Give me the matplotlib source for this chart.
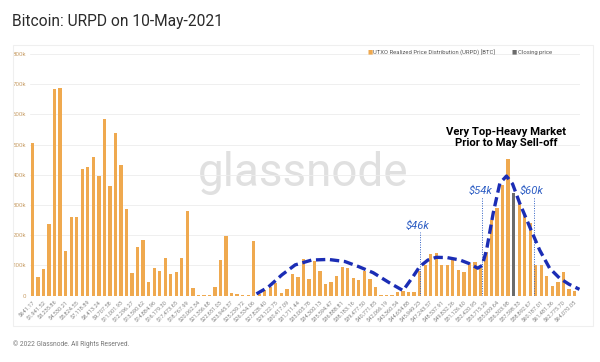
import matplotlib
matplotlib.use('Agg')
import matplotlib.pyplot as plt
import numpy as np

# URPD supply per price bucket (BTC, thousands), buckets 1..99 of $647.17
urpd_k = [507, 61, 87, 236, 684, 688, 148, 262, 260, 420,
          426, 460, 397, 585, 363, 539, 433, 287, 75, 162,
          183, 44, 93, 81, 124, 73, 78, 125, 280, 27,
          1, 2, 2, 30, 119, 199, 9, 5, 2, 2,
          182, 5, 19, 28, 41, 9, 23, 71, 62, 122,
          56, 115, 82, 39, 45, 65, 96, 91, 58, 52,
          83, 55, 28, 1, 1, 2, 13, 17, 13, 13,
          82, 100, 138, 140, 100, 100, 118, 85, 80, 107,
          113, 91, 146, 251, 289, 367, 452, 340, 306, 267,
          240, 102, 102, 65, 32, 46, 80, 22, 17]
close_bucket = 88

tick_labels = ['$641.17', '$1,941.52', '$3,235.86', '$4,530.21', '$5,824.55',
               '$7,118.89', '$8,413.24', '$9,707.58', '$11,001.93', '$12,296.27',
               '$13,590.62', '$14,884.96', '$16,179.30', '$17,473.65', '$18,767.99',
               '$20,062.34', '$21,356.68', '$22,651.03', '$23,945.37', '$25,239.72',
               '$26,534.06', '$27,828.40', '$29,122.75', '$30,417.09', '$31,711.44',
               '$33,005.78', '$34,300.13', '$35,594.47', '$36,888.81', '$38,183.16',
               '$39,477.50', '$40,771.85', '$42,066.19', '$43,360.54', '$44,654.88',
               '$45,949.23', '$47,243.57', '$48,537.91', '$49,832.26', '$51,126.60',
               '$52,420.95', '$53,715.29', '$55,009.64', '$56,303.98', '$57,598.33',
               '$58,892.67', '$60,187.01', '$61,481.36', '$62,775.70', '$64,070.05']

# hand-drawn trend curve (bucket index, thousands BTC)
curve_x = [41.5, 43.6, 46.1, 48.5, 51.5, 54.5, 57.5, 60.0, 62.6, 65.6, 68.0,
           69.8, 71.0, 72.5, 74.0, 76.0, 78.3, 80.0, 81.5, 82.3, 83.1, 84.3,
           85.5, 86.7, 87.8, 89.1, 90.9, 92.7, 94.5, 96.3, 98.0, 99.9]
curve_y = [6, 28, 69, 102, 118, 120, 113, 96, 76, 42, 17,
           63, 96, 118, 127, 126, 118, 106, 91, 100, 151, 273,
           372, 396, 370, 306, 228, 151, 91, 58, 38, 21]

# price markers (label, bucket position)
markers = [('$46k', 71.0), ('$54k', 82.3), ('$60k', 91.6)]
marker_label_y = [230, 346, 346]

orange = '#EFA94F'
gray = '#6B6B6B'
blue = '#1B2DB5'
label_blue = '#2F5FC4'

plt.rcParams['font.family'] = ['Roboto', 'DejaVu Sans']

fig = plt.figure(figsize=(6, 3.62), dpi=100)
ax = fig.add_axes([0.05, 0.1832, 0.9167, 0.6676])

x = np.arange(1, len(urpd_k) + 1)
vals = np.array(urpd_k) * 1000
colors = [gray if i == close_bucket else orange for i in x]
ax.bar(x, vals, width=0.6, color=colors, zorder=2)

ax.set_xlim(0.55, 100)
ax.set_ylim(0, 800000)
ax.set_yticks(np.arange(0, 800001, 100000))
ax.set_yticklabels(['0'] + ['%dk' % (v // 1000) for v in range(100000, 800001, 100000)])
ax.set_xticks(x[::2])
ax.set_xticklabels(tick_labels, rotation=45, ha='right', va='top',
                   rotation_mode='anchor')
ax.tick_params(axis='y', length=0, labelsize=4.4, labelcolor='#C9A06A', pad=3)
ax.tick_params(axis='x', length=0, labelsize=4.1, labelcolor='#888888', pad=3)
ax.grid(axis='y', color='#EDEDED', linewidth=0.6, zorder=0)
for s in ax.spines.values():
    s.set_visible(False)

# trend curve
ax.plot(curve_x, np.array(curve_y) * 1000, color=blue, linewidth=2.4,
        linestyle=(0, (2.8, 1.4)), zorder=4, solid_capstyle='butt')

# price markers
for (lab, pos), ly in zip(markers, marker_label_y):
    ax.plot([pos, pos], [0, (ly - 18) * 1000], color=label_blue, linewidth=0.7,
            linestyle=(0, (1, 1.5)), zorder=3)
    ax.text(pos - 0.3, ly * 1000, lab, color=label_blue, fontsize=8,
            style='italic', ha='center', va='center', zorder=5)

ax.text(86.7, 523000, 'Very Top-Heavy Market\nPrior to May Sell-off',
        fontsize=8.1, fontweight='bold', ha='center', va='center',
        linespacing=1.15, zorder=5)

# watermark
ax.text(50, 405000, 'glassnode', fontsize=33, color='#E0E0E0',
        ha='center', va='center', zorder=1)

# legend
fig.text(0.612, 0.856, '\u25A0', color=orange, fontsize=4, va='center')
fig.text(0.622, 0.856, 'UTXO Realized Price Distribution (URPD) [BTC]',
         color='#555555', fontsize=4.2, va='center')
fig.text(0.853, 0.856, '\u25A0', color=gray, fontsize=4, va='center')
fig.text(0.863, 0.856, 'Closing price', color='#555555', fontsize=4.2, va='center')

# panel border
panel = plt.Rectangle((0.022, 0.1), 0.966, 0.776, transform=fig.transFigure,
                      fill=False, edgecolor='#EFEFEF', linewidth=0.8)
fig.add_artist(panel)

fig.text(0.02, 0.94, 'Bitcoin: URPD on 10-May-2021', fontsize=11.2,
         color='#2B2B2B', va='center', ha='left')
fig.text(0.022, 0.05, '\u00A9 2022 Glassnode. All Rights Reserved.',
         fontsize=4.8, color='#777777', va='center')

fig.savefig('out.png', dpi=100)
